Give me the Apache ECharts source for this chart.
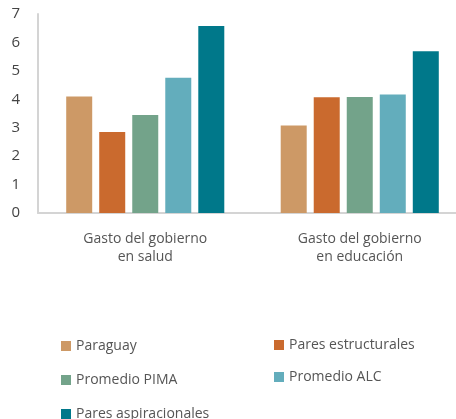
<!DOCTYPE html>
<html>
<head>
<meta charset="utf-8">
<script src="https://cdn.jsdelivr.net/npm/echarts@6/dist/echarts.min.js"></script>
<style>
  html, body { margin: 0; padding: 0; background: #fff; overflow: hidden; }
  #main { width: 467px; height: 419px; }
</style>
</head>
<body>
<div id="main"></div>
<script>
// categorias y valores
var categories = ['Gasto del gobierno\nen salud', 'Gasto del gobierno\nen educación'];
var seriesNames = ['Paraguay', 'Pares estructurales', 'Promedio PIMA', 'Promedio ALC', 'Pares aspiracionales'];
var paraguay = [4.1, 3.08];
var paresEstructurales = [2.85, 4.07];
var promedioPIMA = [3.45, 4.08];
var promedioALC = [4.76, 4.17];
var paresAspiracionales = [6.58, 5.69];
var yTicks = [0, 1, 2, 3, 4, 5, 6, 7];

var colors = ['#CD9966', '#CA6A2E', '#73A38A', '#63ADBC', '#00788A'];
var font = 'Open Sans';

// el area del grafico sigue un poco mas alla del borde derecho (recortado)
var myechart = echarts.init(document.getElementById('main'));

function bar(name, data, color) {
  return {
    name: name,
    type: 'bar',
    data: data,
    barWidth: 26,
    barGap: '27%',
    itemStyle: { color: color },
    emphasis: { disabled: true }
  };
}

// una leyenda por elemento, en dos columnas
var legendPos = [[56, 334], [269, 333], [56, 368], [269, 365], [56, 402]];
var legends = seriesNames.map(function (n, i) {
  return {
    left: legendPos[i][0], top: legendPos[i][1],
    itemWidth: 10, itemHeight: 10, itemGap: 4,
    icon: 'rect',
    textStyle: { fontFamily: font, fontSize: 14, color: '#555' },
    data: [n]
  };
});

myechart.setOption({
  animation: false,
  color: colors,
  grid: { left: 38, top: 14, bottom: 206, right: 0 },
  legend: legends,
  xAxis: {
    type: 'category',
    data: categories,
    axisLine: { lineStyle: { color: '#d4d4d4', width: 2 } },
    axisTick: { show: false },
    axisLabel: {
      fontFamily: font, fontSize: 14, color: '#555',
      lineHeight: 18, margin: 17, interval: 0
    }
  },
  yAxis: {
    type: 'value',
    min: yTicks[0],
    max: yTicks[yTicks.length - 1],
    interval: 1,
    splitLine: { show: false },
    axisLine: { show: true, lineStyle: { color: '#d4d4d4', width: 2 } },
    axisLabel: { fontFamily: font, fontSize: 15, color: '#444', margin: 18 }
  },
  series: [
    bar(seriesNames[0], paraguay, colors[0]),
    bar(seriesNames[1], paresEstructurales, colors[1]),
    bar(seriesNames[2], promedioPIMA, colors[2]),
    bar(seriesNames[3], promedioALC, colors[3]),
    bar(seriesNames[4], paresAspiracionales, colors[4])
  ]
});
</script>
</body>
</html>
